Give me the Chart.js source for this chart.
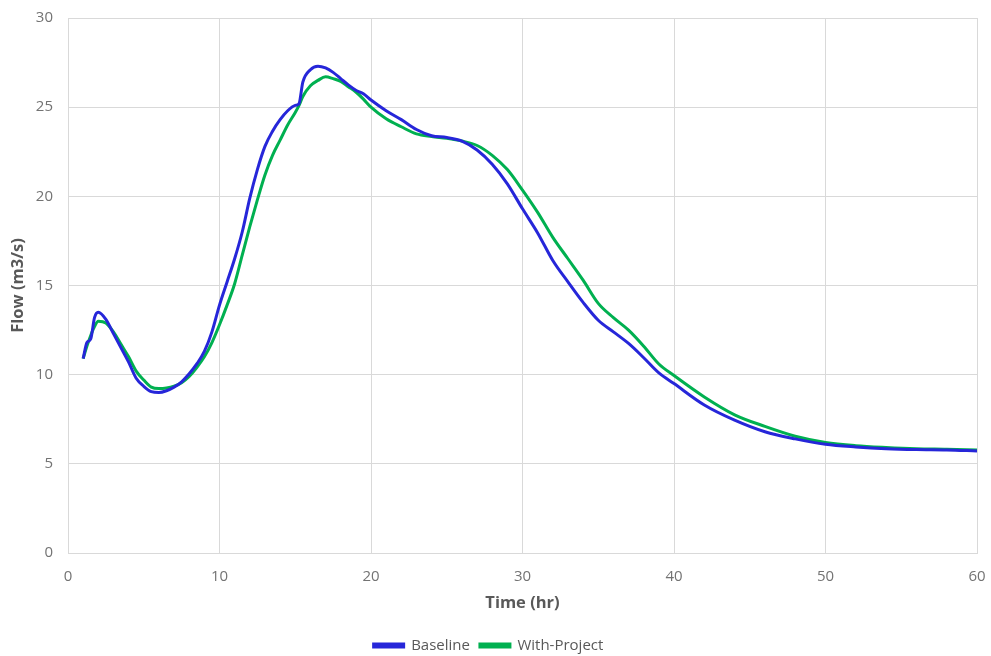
<!DOCTYPE html>
<html>
<head>
<meta charset="utf-8">
<script src="https://cdn.jsdelivr.net/npm/chart.js@4"></script>
<style>
  html, body { margin: 0; padding: 0; background: #fff; }
  #wrap { width: 991px; height: 656px; }
</style>
</head>
<body>
<div id="wrap"><canvas id="myChart"></canvas></div>
<script>
// datos
const tiempoHr = [1, 1.25, 1.5, 1.75, 2, 2.5, 3, 3.5, 4, 4.5, 5, 5.5, 6, 6.5, 7, 7.5, 8, 8.5, 9, 9.5,
  10, 10.5, 11, 11.5, 12, 12.5, 13, 13.5, 14, 14.5, 15, 15.25, 15.5, 16, 16.5, 17, 17.5, 18, 18.5, 19, 19.5,
  20, 21, 22, 23, 24, 25, 26, 27, 28, 29, 30, 31, 32, 33, 34, 35, 36, 37, 38, 39, 40,
  42, 44, 46, 48, 50, 52, 54, 56, 58, 60];

const baseline = [10.9, 11.8, 12.0, 13.2, 13.5, 13.1, 12.3, 11.5, 10.7, 9.8, 9.35, 9.05, 9.0, 9.1, 9.3, 9.6, 10.05, 10.6, 11.3, 12.4,
  13.9, 15.2, 16.5, 18.0, 19.9, 21.5, 22.8, 23.65, 24.3, 24.8, 25.1, 25.2, 26.4, 27.1, 27.3, 27.2, 26.95, 26.6, 26.25, 25.95, 25.75,
  25.4, 24.8, 24.3, 23.75, 23.4, 23.3, 23.1, 22.6, 21.8, 20.7, 19.3, 17.95, 16.4, 15.2, 14.05, 13.05, 12.4, 11.75, 10.95, 10.1, 9.5,
  8.3, 7.45, 6.8, 6.4, 6.1, 5.95, 5.85, 5.8, 5.78, 5.72];

const withProject = [10.9, 11.6, 12.2, 12.7, 13.0, 12.9, 12.4, 11.7, 11.0, 10.2, 9.7, 9.3, 9.22, 9.25, 9.35, 9.55, 9.9, 10.4, 11.0, 11.8,
  12.8, 13.9, 15.1, 16.7, 18.3, 19.8, 21.2, 22.3, 23.15, 24.0, 24.7, 25.1, 25.6, 26.2, 26.5, 26.7, 26.6, 26.45, 26.15, 25.85, 25.45,
  25.0, 24.35, 23.9, 23.5, 23.35, 23.25, 23.1, 22.85, 22.3, 21.5, 20.35, 19.1, 17.7, 16.5, 15.3, 14.0, 13.2, 12.5, 11.6, 10.6, 9.95,
  8.75, 7.75, 7.1, 6.55, 6.2, 6.02, 5.92, 5.85, 5.82, 5.78];

const xTicks = [0, 10, 20, 30, 40, 50, 60];
const yTicks = [0, 5, 10, 15, 20, 25, 30];

const toPoints = (serie) => tiempoHr.map((t, i) => ({ x: t, y: serie[i] }));

const fuente = "'Open Sans', 'DejaVu Sans', sans-serif";
const gris = "#595959";
const grisTicks = "#737373";

new Chart(document.getElementById("myChart"), {
  type: "line",
  data: {
    datasets: [
      {
        label: "Baseline",
        data: toPoints(baseline),
        borderColor: "#2626d9",
        backgroundColor: "#2626d9",
        borderWidth: 3,
        pointRadius: 0,
        cubicInterpolationMode: "monotone",
        fill: false,
      },
      {
        label: "With-Project",
        data: toPoints(withProject),
        borderColor: "#00b050",
        backgroundColor: "#00b050",
        borderWidth: 3,
        pointRadius: 0,
        cubicInterpolationMode: "monotone",
        fill: false,
      },
    ],
  },
  options: {
    responsive: true,
    maintainAspectRatio: false,
    animation: false,
    layout: { padding: { left: 0, right: 14, top: 18, bottom: -7 } },
    scales: {
      x: {
        type: "linear",
        min: 0,
        max: 60,
        afterBuildTicks: (axis) => { axis.ticks = xTicks.map((v) => ({ value: v })); },
        afterFit: (axis) => {
          axis.height = 75;
          axis.paddingLeft = 0;
          axis.paddingRight = 0;
        },
        grid: { color: "#d9d9d9", drawTicks: false },
        border: { color: "#d9d9d9" },
        ticks: { color: grisTicks, font: { family: fuente, size: 15 }, padding: 15 },
        title: { display: true, text: "Time (hr)", color: gris, font: { family: fuente, size: 16.5, weight: "bold" }, padding: { top: 0, bottom: 15 } },
      },
      y: {
        min: 0,
        max: 30,
        afterBuildTicks: (axis) => { axis.ticks = yTicks.map((v) => ({ value: v })); },
        afterFit: (axis) => {
          axis.width = 68;
          axis.paddingTop = 0;
          axis.paddingBottom = 0;
        },
        grid: { color: "#d9d9d9", drawTicks: false },
        border: { color: "#d9d9d9" },
        ticks: { color: grisTicks, font: { family: fuente, size: 15 }, padding: 15 },
        title: { display: true, text: "Flow (m3/s)", color: gris, font: { family: fuente, size: 16.5, weight: "bold" }, padding: { top: 8, bottom: 0 } },
      },
    },
    plugins: {
      legend: {
        position: "bottom",
        labels: { color: gris, font: { family: fuente, size: 15 }, boxWidth: 30, boxHeight: 3, padding: 10 },
      },
      tooltip: { enabled: false },
    },
  },
});
</script>
</body>
</html>
